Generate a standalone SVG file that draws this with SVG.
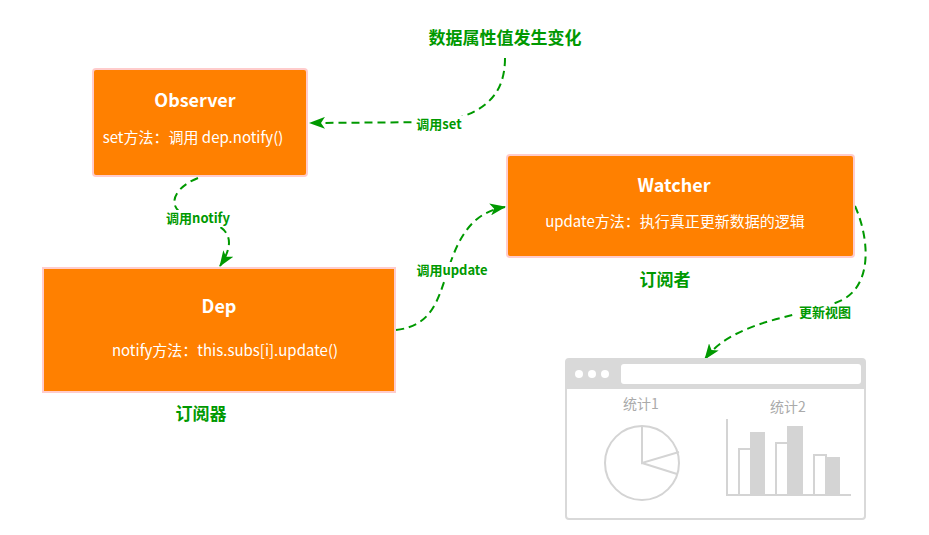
<svg xmlns="http://www.w3.org/2000/svg" width="929" height="535" viewBox="0 0 929 535">
<defs>
<marker id="arrow" viewBox="0 0 16 12" refX="15" refY="6" markerWidth="16" markerHeight="12" markerUnits="userSpaceOnUse" orient="auto">
<path d="M0,0 L16,6 L0,12 L4,6 z" fill="#009900"/>
</marker>
<style>
.box{fill:#FF8000;stroke:#FFCCCC;stroke-width:2}
.ttl{font-family:"Noto Sans CJK SC","Liberation Sans",sans-serif;font-weight:bold;font-size:18px;fill:#fff;text-anchor:middle}
.body{font-family:"Noto Sans CJK SC","Liberation Sans",sans-serif;font-size:15px;fill:#fff;text-anchor:middle}
.cap{font-family:"Noto Sans CJK SC","Liberation Sans",sans-serif;font-weight:bold;font-size:17px;fill:#009900;text-anchor:middle}
.lbl{font-family:"Noto Sans CJK SC","Liberation Sans",sans-serif;font-weight:bold;font-size:13px;fill:#009900;text-anchor:middle}
.conn{fill:none;stroke:#009900;stroke-width:2;stroke-dasharray:8,5;marker-end:url(#arrow)}
.lblbg{fill:#fff}
.g{fill:none;stroke:#d4d4d4;stroke-width:2}
.gt{font-family:"Noto Sans CJK SC","Liberation Sans",sans-serif;font-size:14px;fill:#aaaaaa;text-anchor:middle}
</style>
</defs>
<rect width="929" height="535" fill="#fff"/>

<g id="connectors">
<path class="conn" d="M505,58 C505,95 485,112 445,122 L310,123"/>
<path class="conn" d="M198,178 C168,190 165,214 198,219 C238,226 232,248 220,266"/>
<path class="conn" d="M396,330 C432,326 438,300 448,270 C460,232 475,212 505,207"/>
<path class="conn" d="M855,206 C870,240 872,285 842,300 C810,316 735,318 705,359"/>
<rect class="lblbg" x="413" y="116" width="52" height="17"/>
<text class="lbl" x="439" y="129">调用set</text>
<rect class="lblbg" x="162" y="210" width="72" height="17"/>
<text class="lbl" x="198" y="223">调用notify</text>
<rect class="lblbg" x="412" y="262" width="80" height="17"/>
<text class="lbl" x="452" y="275">调用update</text>
<rect class="lblbg" x="795" y="304" width="60" height="17"/>
<text class="lbl" x="825" y="317">更新视图</text>
</g>

<g id="source">
<text class="cap" x="505" y="44" font-size="18.5">数据属性值发生变化</text>
</g>

<g id="observer">
<rect class="box" x="93" y="69" width="214" height="107" rx="3"/>
<text class="ttl" x="195" y="107">Observer</text>
<text class="body" x="193" y="143">set方法：调用 dep.notify()</text>
</g>

<g id="dep">
<rect class="box" x="43" y="268" width="352" height="124"/>
<text class="ttl" x="219" y="313">Dep</text>
<text class="body" x="225" y="356">notify方法：this.subs[i].update()</text>
<text class="cap" x="201" y="420">订阅器</text>
</g>

<g id="watcher">
<rect class="box" x="507" y="155" width="347" height="102" rx="3"/>
<text class="ttl" x="674" y="192">Watcher</text>
<text class="body" x="675" y="227">update方法：执行真正更新数据的逻辑</text>
<text class="cap" x="665" y="286">订阅者</text>
</g>

<g id="view">
<rect x="566" y="359" width="299" height="160" rx="3" fill="#fff" stroke="#d9d9d9" stroke-width="2"/>
<path d="M566,362 a3,3 0 0 1 3,-3 h293 a3,3 0 0 1 3,3 v27 h-299 z" fill="#d9d9d9"/>
<circle cx="579" cy="374" r="4" fill="#fff"/>
<circle cx="592" cy="374" r="4" fill="#fff"/>
<circle cx="605" cy="374" r="4" fill="#fff"/>
<rect x="621" y="364" width="240" height="20" rx="3" fill="#fff"/>
<text class="gt" x="641" y="409">统计1</text>
<circle class="g" cx="642" cy="463" r="37"/>
<path class="g" d="M642,426 L642,463 L679,452 M642,463 L677,474"/>
<text class="gt" x="788" y="412">统计2</text>
<path class="g" d="M727,419 L727,495 L851,495"/>
<rect x="739" y="449" width="12" height="46" fill="#fff" stroke="#d4d4d4" stroke-width="2"/>
<rect x="751" y="433" width="13" height="62" fill="#d4d4d4" stroke="#d4d4d4" stroke-width="2"/>
<rect x="776" y="443" width="12" height="52" fill="#fff" stroke="#d4d4d4" stroke-width="2"/>
<rect x="788" y="427" width="14" height="68" fill="#d4d4d4" stroke="#d4d4d4" stroke-width="2"/>
<rect x="814" y="455" width="12" height="40" fill="#fff" stroke="#d4d4d4" stroke-width="2"/>
<rect x="826" y="458" width="13" height="37" fill="#d4d4d4" stroke="#d4d4d4" stroke-width="2"/>
</g>
</svg>
